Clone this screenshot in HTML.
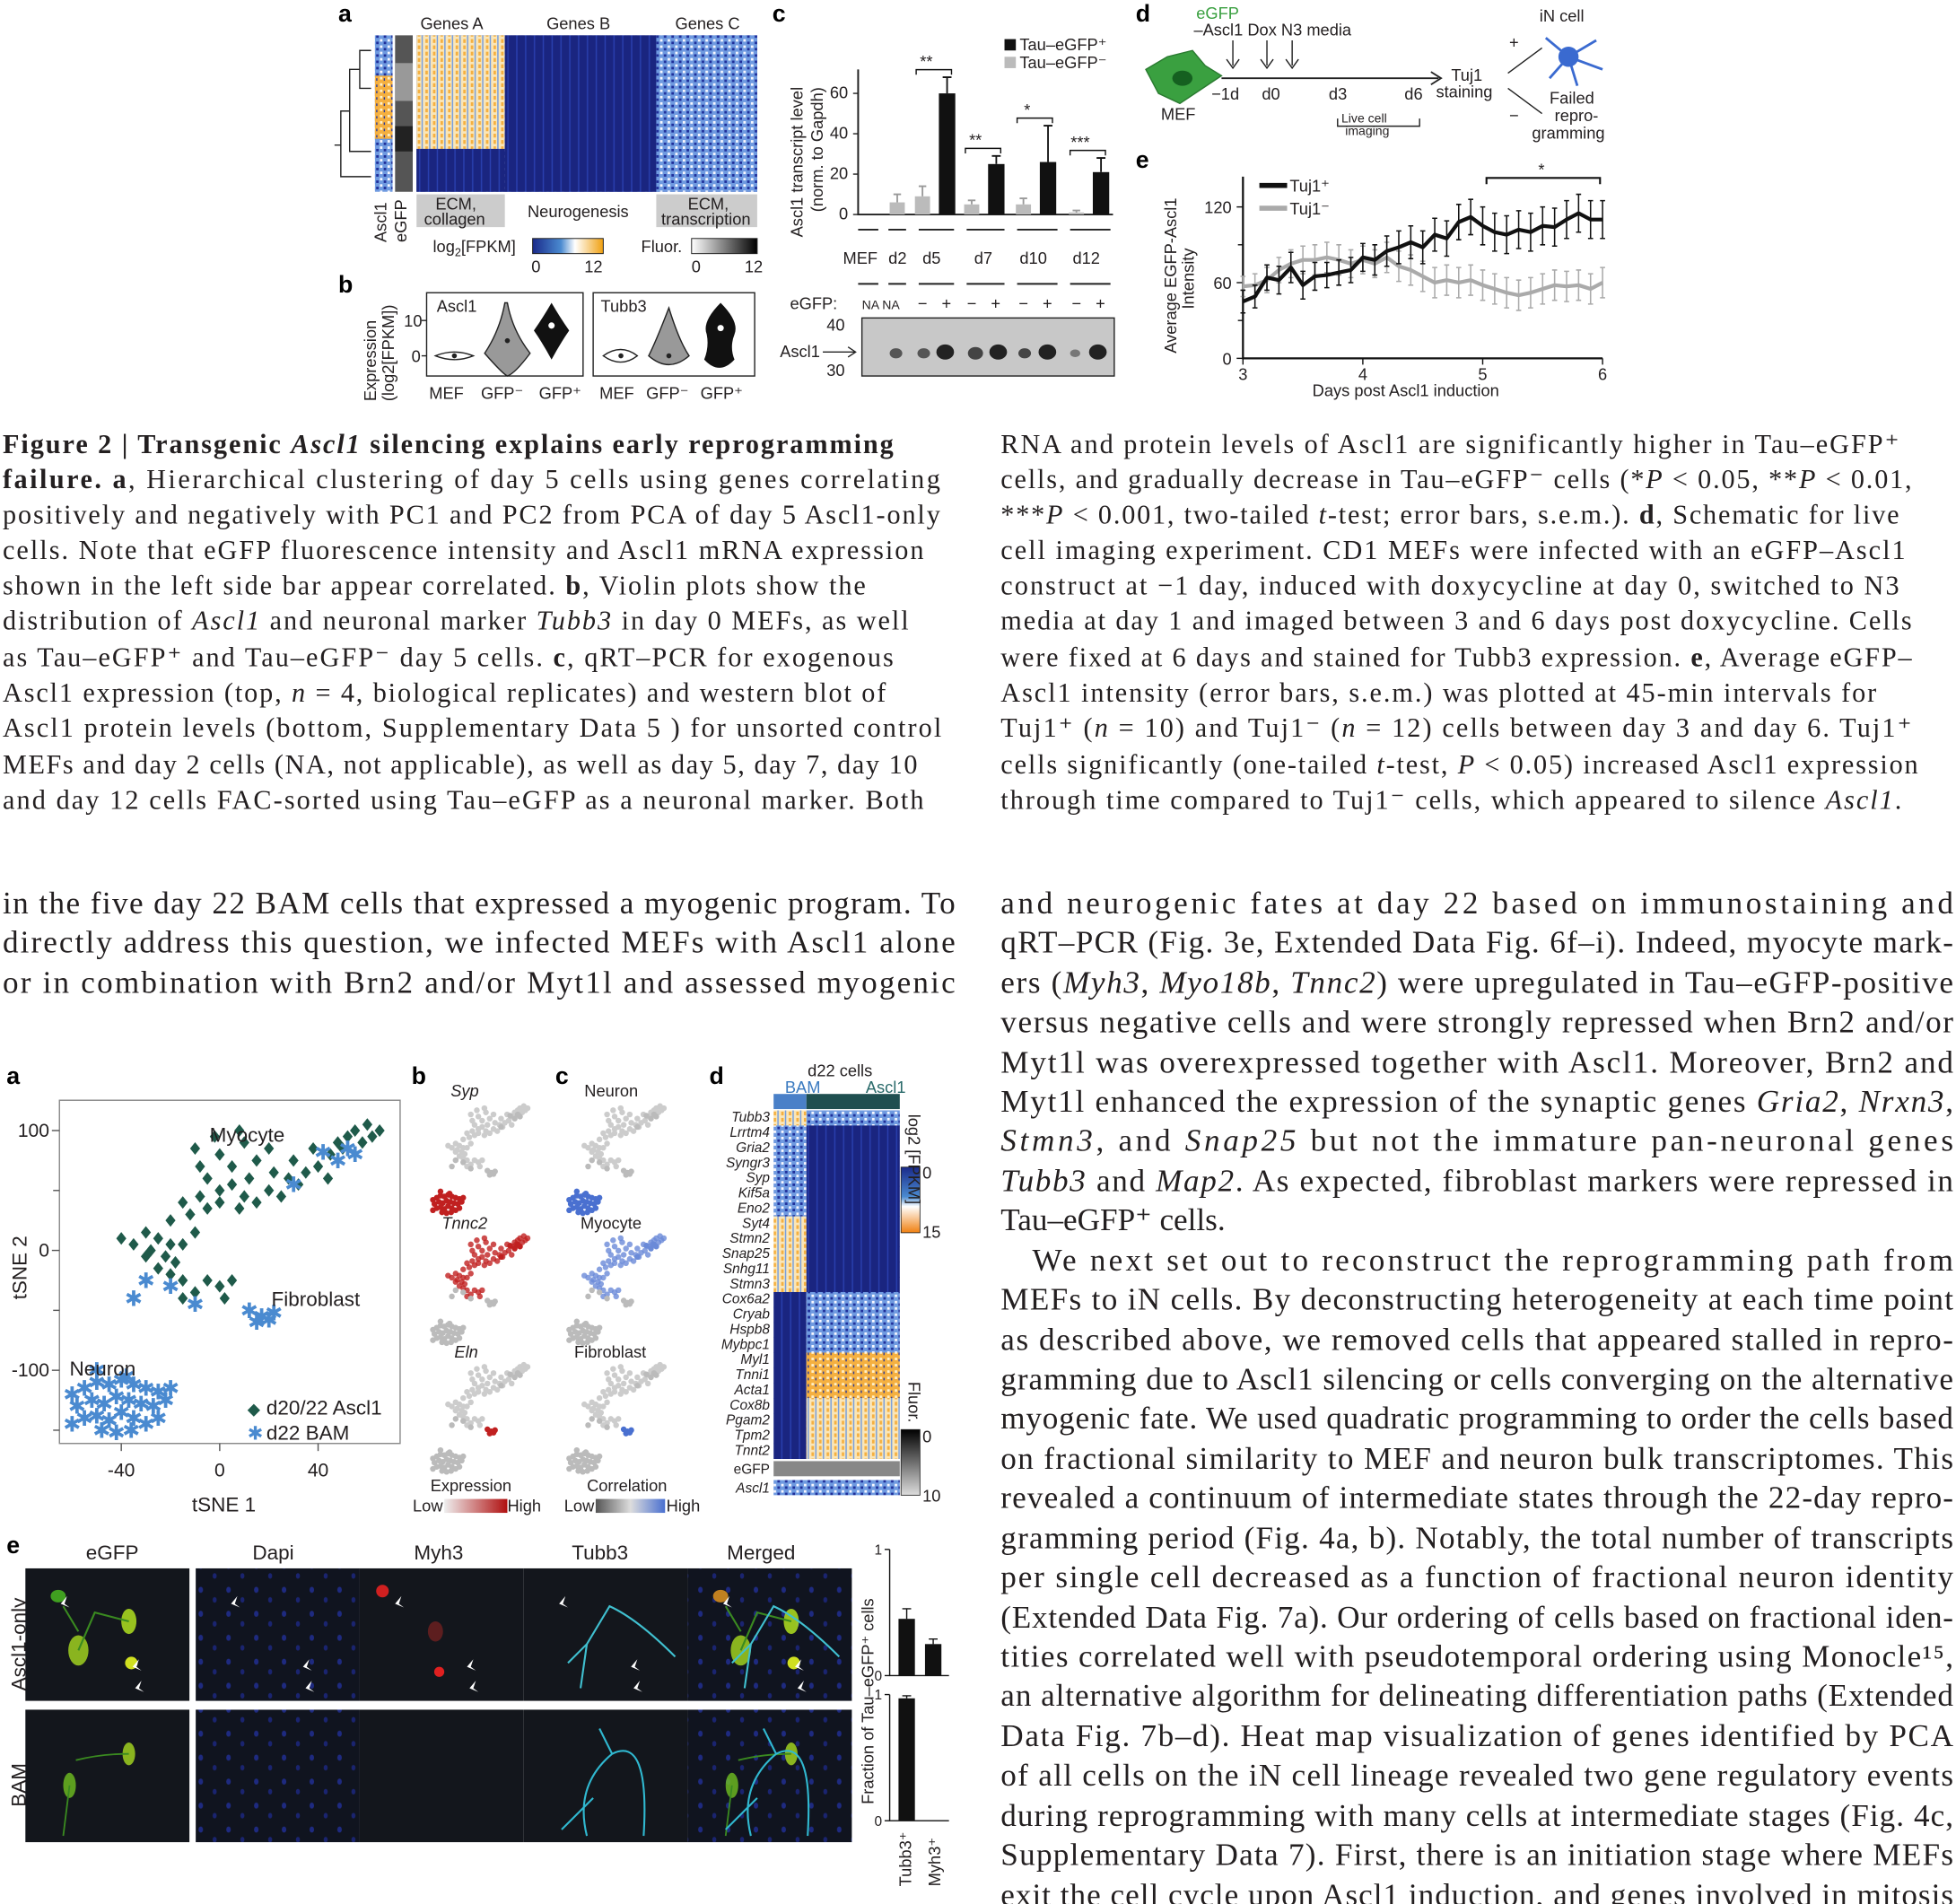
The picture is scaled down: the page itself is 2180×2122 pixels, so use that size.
<!DOCTYPE html>
<html><head><meta charset="utf-8">
<style>
html,body{margin:0;padding:0;background:#fff;}
svg{display:block;}
.cap{font-family:"Liberation Serif",serif;font-size:21.5px;fill:#231f20;}
.body{font-family:"Liberation Serif",serif;font-size:25px;fill:#231f20;}
.lbl{font-family:"Liberation Sans",sans-serif;font-size:13px;fill:#231f20;}
.plab{font-family:"Liberation Sans",sans-serif;font-size:19px;font-weight:bold;fill:#000;}
</style></head>
<body>
<svg id="page" width="2180" height="2122" viewBox="0 0 1550 1509" xmlns="http://www.w3.org/2000/svg">
<defs>
<linearGradient id="gFpkm" x1="0" x2="1"><stop offset="0" stop-color="#1a2a8a"/><stop offset="0.4" stop-color="#4a8ad0"/><stop offset="0.6" stop-color="#fff"/><stop offset="1" stop-color="#f0a010"/></linearGradient>
<linearGradient id="gFluor" x1="0" x2="1"><stop offset="0" stop-color="#fff"/><stop offset="1" stop-color="#000"/></linearGradient>
<linearGradient id="gFpkmV" x1="0" y1="0" x2="0" y2="1"><stop offset="0" stop-color="#1a2a8a"/><stop offset="0.45" stop-color="#4a8ad0"/><stop offset="0.6" stop-color="#fff"/><stop offset="1" stop-color="#f08010"/></linearGradient>
<linearGradient id="gFluorV" x1="0" y1="0" x2="0" y2="1"><stop offset="0" stop-color="#000"/><stop offset="1" stop-color="#ddd"/></linearGradient>
<linearGradient id="gExpr" x1="0" x2="1"><stop offset="0" stop-color="#eee"/><stop offset="1" stop-color="#b01010"/></linearGradient>
<linearGradient id="gCorr" x1="0" x2="1"><stop offset="0" stop-color="#555"/><stop offset="0.5" stop-color="#ddd"/><stop offset="1" stop-color="#4a70d0"/></linearGradient>
<pattern id="pBlue" width="6" height="5" patternUnits="userSpaceOnUse"><rect width="6" height="5" fill="#1f2f9a"/><rect x="1" y="1" width="2" height="2" fill="#5f8ed6"/><rect x="4" y="3" width="1" height="2" fill="#e8eefa"/></pattern>
<pattern id="pOrange" width="6" height="5" patternUnits="userSpaceOnUse"><rect width="6" height="5" fill="#f5b040"/><rect x="1" y="1" width="2" height="2" fill="#fff0c8"/><rect x="4" y="2" width="1" height="2" fill="#2a3a9a"/></pattern>
<pattern id="pPale" width="6" height="5" patternUnits="userSpaceOnUse"><rect width="6" height="5" fill="#fae6b8"/><rect x="1" y="1" width="2" height="3" fill="#f5b040"/><rect x="4" y="0" width="1" height="5" fill="#6f9ae0"/></pattern>
<pattern id="pLight" width="6" height="5" patternUnits="userSpaceOnUse"><rect width="6" height="5" fill="#6f9ae0"/><rect x="1" y="1" width="2" height="2" fill="#f8f8ff"/><rect x="4" y="3" width="2" height="2" fill="#1f2f9a"/></pattern>
<pattern id="pDark" width="7" height="5" patternUnits="userSpaceOnUse"><rect width="7" height="5" fill="#1a2580"/><rect x="3" y="0" width="1" height="5" fill="#2a40b0"/></pattern>
<pattern id="pCells" width="22" height="19" patternUnits="userSpaceOnUse"><rect width="22" height="19" fill="#10141f"/><ellipse cx="5" cy="6" rx="1.8" ry="2.4" fill="#1e2a80"/><ellipse cx="16" cy="14" rx="1.6" ry="2.2" fill="#1a2470"/></pattern>
<pattern id="pDim" width="22" height="19" patternUnits="userSpaceOnUse"><rect width="22" height="19" fill="#13161c"/></pattern>
</defs>

<!-- ============ FIGURE 2 ============ -->
<g id="fig2a">
  <text class="plab" x="268" y="17">a</text>
  <text class="lbl" x="333" y="23">Genes A</text>
  <text class="lbl" x="433" y="23">Genes B</text>
  <text class="lbl" x="535" y="23">Genes C</text>
  <rect x="330" y="28" width="270" height="124" fill="url(#pBlue)"/>
  <rect x="330" y="28" width="70" height="90" fill="url(#pPale)"/>
  <rect x="330" y="118" width="70" height="34" fill="url(#pDark)"/>
  <rect x="400" y="28" width="120" height="124" fill="url(#pDark)"/>
  <rect x="520" y="28" width="80" height="124" fill="url(#pLight)"/>
  <rect x="297" y="28" width="14" height="124" fill="url(#pLight)"/>
  <rect x="297" y="60" width="14" height="50" fill="url(#pOrange)"/>
  <rect x="313" y="28" width="14" height="124" fill="#555"/>
  <rect x="313" y="50" width="14" height="30" fill="#999"/><rect x="313" y="100" width="14" height="20" fill="#222"/>
  <path d="M294 40 H285 V70 H294 M285 55 H277 V120 H294 M277 88 H270 V140 H294 M270 115 H265" fill="none" stroke="#222"/>
  <rect x="330" y="154" width="70" height="26" fill="#ccc"/>
  <rect x="520" y="154" width="80" height="26" fill="#ccc"/>
  <text class="lbl" x="345" y="166">ECM,</text>
  <text class="lbl" x="336" y="178">collagen</text>
  <text class="lbl" x="418" y="172">Neurogenesis</text>
  <text class="lbl" x="545" y="166">ECM,</text>
  <text class="lbl" x="524" y="178">transcription</text>
  <text class="lbl" transform="translate(306,192) rotate(-90)">Ascl1</text>
  <text class="lbl" transform="translate(322,192) rotate(-90)">eGFP</text>
  <text class="lbl" x="343" y="200">log<tspan font-size="9" dy="3">2</tspan><tspan dy="-3">[FPKM]</tspan></text>
  <rect x="422" y="189" width="56" height="12" fill="url(#gFpkm)" stroke="#222" stroke-width="0.7"/>
  <text class="lbl" x="421" y="216">0</text>
  <text class="lbl" x="463" y="216">12</text>
  <text class="lbl" x="508" y="200">Fluor.</text>
  <rect x="548" y="189" width="52" height="12" fill="url(#gFluor)" stroke="#222" stroke-width="0.7"/>
  <text class="lbl" x="548" y="216">0</text>
  <text class="lbl" x="590" y="216">12</text>
</g>

<g id="fig2b">
  <text class="plab" x="268" y="232">b</text>
  <text class="lbl" transform="translate(298,318) rotate(-90)">Expression</text>
  <text class="lbl" transform="translate(312,318) rotate(-90)">(log2[FPKM])</text>
  <path d="M338 282 H334 M338 254 H334" stroke="#222"/>
  <text class="lbl" x="320" y="259">10</text>
  <text class="lbl" x="326" y="287">0</text>
  <rect x="338" y="232" width="124" height="66" fill="none" stroke="#222"/>
  <rect x="470" y="232" width="128" height="66" fill="none" stroke="#222"/>
  <text class="lbl" x="346" y="247">Ascl1</text>
  <text class="lbl" x="476" y="247">Tubb3</text>
  <path d="M345 282 Q360 276 375 282 Q360 288 345 282Z" fill="#fff" stroke="#222"/>
  <path d="M400 240 Q396 262 384 280 Q398 296 402 298 Q408 296 420 280 Q406 262 402 240Z" fill="#999" stroke="#222"/>
  <path d="M437 240 Q430 252 423 262 Q430 272 437 285 Q444 272 451 262 Q444 252 437 240Z" fill="#111"/>
  <path d="M478 282 Q492 272 505 282 Q492 292 478 282Z" fill="#fff" stroke="#222"/>
  <path d="M530 244 Q520 270 514 282 Q530 296 546 282 Q538 270 530 244Z" fill="#999" stroke="#222"/>
  <path d="M571 240 Q556 255 560 265 Q562 275 558 285 Q570 298 582 285 Q578 275 582 265 Q586 255 571 240Z" fill="#111"/>
  <circle cx="360" cy="282" r="2" fill="#222"/><circle cx="402" cy="270" r="2" fill="#222"/><circle cx="437" cy="258" r="2.5" fill="#fff"/><circle cx="492" cy="282" r="2" fill="#222"/><circle cx="530" cy="282" r="2" fill="#222"/><circle cx="571" cy="260" r="2.5" fill="#fff"/>
  <text class="lbl" x="340" y="316">MEF</text>
  <text class="lbl" x="381" y="316">GFP⁻</text>
  <text class="lbl" x="427" y="316">GFP⁺</text>
  <text class="lbl" x="475" y="316">MEF</text>
  <text class="lbl" x="512" y="316">GFP⁻</text>
  <text class="lbl" x="555" y="316">GFP⁺</text>
</g>

<g id="fig2c">
  <text class="plab" x="612" y="17">c</text>
  <text class="lbl" transform="translate(636,188) rotate(-90)">Ascl1 transcript level</text>
  <text class="lbl" transform="translate(652,168) rotate(-90)">(norm. to Gapdh)</text>
  <rect x="796" y="31" width="9" height="9" fill="#111"/>
  <text class="lbl" x="808" y="40">Tau–eGFP⁺</text>
  <rect x="796" y="45" width="9" height="9" fill="#bbb"/>
  <text class="lbl" x="808" y="54">Tau–eGFP⁻</text>
  <g id="qpcrAxis"></g>
  <g id="qpcrBars"></g>
  <text class="lbl" x="668" y="209">MEF</text>
  <text class="lbl" x="704" y="209">d2</text>
  <text class="lbl" x="731" y="209">d5</text>
  <text class="lbl" x="772" y="209">d7</text>
  <text class="lbl" x="808" y="209">d10</text>
  <text class="lbl" x="850" y="209">d12</text>
  <path d="M680 182 H696 M704 182 H718 M728 182 H756 M766 182 H796 M806 182 H838 M848 182 H880 M680 225 H696 M704 225 H718 M728 225 H756 M766 225 H796 M806 225 H838 M848 225 H880" stroke="#222" stroke-width="1.4"/>
  <text class="lbl" x="626" y="245">eGFP:</text>
  <text class="lbl" x="683" y="245" font-size="10" style="font-size:10px">NA NA</text>
  <g id="signs"></g>
  <rect x="683" y="252" width="200" height="46" fill="#c8c8c8" stroke="#222"/>
  <g fill="#222">
    <ellipse cx="710" cy="280" rx="5" ry="4" fill="#555"/><ellipse cx="732" cy="280" rx="5" ry="4" fill="#555"/><ellipse cx="749" cy="279" rx="7" ry="6"/><ellipse cx="773" cy="280" rx="6" ry="5" fill="#444"/><ellipse cx="791" cy="279" rx="7" ry="6"/><ellipse cx="812" cy="280" rx="5" ry="4" fill="#444"/><ellipse cx="830" cy="279" rx="7" ry="6"/><ellipse cx="852" cy="280" rx="4" ry="3" fill="#777"/><ellipse cx="870" cy="279" rx="7" ry="6"/>
  </g>
  <text class="lbl" x="655" y="262">40</text>
  <text class="lbl" x="655" y="298">30</text>
  <text class="lbl" x="618" y="283">Ascl1</text>
  <path d="M652 279 H678 M672 275 L678 279 L672 283" fill="none" stroke="#222"/>
</g>

<g id="fig2d">
  <text class="plab" x="900" y="17">d</text>
  <path d="M908 55 L925 45 L945 40 L955 52 L968 60 L950 72 L935 82 L918 74 Z" fill="#3aa040" stroke="#2a7a30"/>
  <ellipse cx="937" cy="62" rx="8" ry="6" fill="#156020"/>
  <text class="lbl" x="920" y="95">MEF</text>
  <path d="M968 62 H1140 M1134 57 L1142 62 L1134 67" fill="none" stroke="#222" stroke-width="1.3"/>
  <text class="lbl" x="948" y="15" style="fill:#3aa040">eGFP</text>
  <text class="lbl" x="946" y="28">–Ascl1  Dox N3 media</text>
  <path d="M977 32 V52 M1004 32 V52 M1024 32 V52 M972 47 L977 54 L982 47 M999 47 L1004 54 L1009 47 M1019 47 L1024 54 L1029 47" stroke="#222" fill="none"/>
  <text class="lbl" x="960" y="79">−1d</text>
  <text class="lbl" x="1000" y="79">d0</text>
  <text class="lbl" x="1053" y="79">d3</text>
  <text class="lbl" x="1113" y="79">d6</text>
  <text class="lbl" x="1063" y="97" style="font-size:10px">Live cell</text>
  <text class="lbl" x="1066" y="107" style="font-size:10px">imaging</text>
  <path d="M1060 94 V100 H1125 V94" fill="none" stroke="#222"/>
  <text class="lbl" x="1150" y="64">Tuj1</text>
  <text class="lbl" x="1138" y="77">staining</text>
  <path d="M1195 58 L1222 38 M1195 70 L1222 90" stroke="#222"/>
  <text class="lbl" x="1196" y="38">+</text>
  <text class="lbl" x="1196" y="96">−</text>
  <text class="lbl" x="1220" y="17">iN cell</text>
  <g stroke="#3a6ad0" stroke-width="2"><path d="M1243 45 L1225 30 M1243 45 L1265 32 M1243 45 L1270 55 M1243 45 L1228 62 M1243 45 L1250 68"/><circle cx="1243" cy="45" r="7" fill="#3a6ad0"/></g>
  <text class="lbl" x="1228" y="82">Failed</text>
  <text class="lbl" x="1232" y="96">repro-</text>
  <text class="lbl" x="1214" y="110">gramming</text>
</g>

<g id="fig2e">
  <text class="plab" x="900" y="133">e</text>
  <text class="lbl" transform="translate(932,280) rotate(-90)">Average EGFP-Ascl1</text>
  <text class="lbl" transform="translate(946,245) rotate(-90)">Intensity</text>
  <text class="lbl" x="1040" y="314">Days post Ascl1 induction</text>
  <g id="eAxis"></g>
  <g id="eLines"></g>
  <path d="M998 147 H1020" stroke="#111" stroke-width="4"/>
  <text class="lbl" x="1022" y="152">Tuj1⁺</text>
  <path d="M998 165 H1020" stroke="#aaa" stroke-width="4"/>
  <text class="lbl" x="1022" y="170">Tuj1⁻</text>
  <path d="M1178 146 V141 H1268 V146" fill="none" stroke="#111" stroke-width="1.5"/>
  <text class="lbl" x="1219" y="139">*</text>
</g>

<!-- caption text Fig 2 -->
<g>
<text class="cap" x="2" y="359" textLength="706" lengthAdjust="spacing" font-weight="bold">Figure 2 | Transgenic <tspan font-style="italic">Ascl1</tspan> silencing explains early reprogramming</text>
<text class="cap" x="2" y="387" textLength="743" lengthAdjust="spacing"><tspan font-weight="bold">failure. a</tspan>, Hierarchical clustering of day 5 cells using genes correlating</text>
<text class="cap" x="2" y="415" textLength="743" lengthAdjust="spacing">positively and negatively with PC1 and PC2 from PCA of day 5 Ascl1-only</text>
<text class="cap" x="2" y="443" textLength="730" lengthAdjust="spacing">cells. Note that eGFP fluorescence intensity and Ascl1 mRNA expression</text>
<text class="cap" x="2" y="471" textLength="684" lengthAdjust="spacing">shown in the left side bar appear correlated. <tspan font-weight="bold">b</tspan>, Violin plots show the</text>
<text class="cap" x="2" y="499" textLength="718" lengthAdjust="spacing">distribution of <tspan font-style="italic">Ascl1</tspan> and neuronal marker <tspan font-style="italic">Tubb3</tspan> in day 0 MEFs, as well</text>
<text class="cap" x="2" y="528" textLength="706" lengthAdjust="spacing">as Tau–eGFP⁺ and Tau–eGFP⁻ day 5 cells. <tspan font-weight="bold">c</tspan>, qRT–PCR for exogenous</text>
<text class="cap" x="2" y="556" textLength="700" lengthAdjust="spacing">Ascl1 expression (top, <tspan font-style="italic">n</tspan> = 4, biological replicates) and western blot of</text>
<text class="cap" x="2" y="584" textLength="744" lengthAdjust="spacing">Ascl1 protein levels (bottom, Supplementary Data 5 ) for unsorted control</text>
<text class="cap" x="2" y="613" textLength="725" lengthAdjust="spacing">MEFs and day 2 cells (NA, not applicable), as well as day 5, day 7, day 10</text>
<text class="cap" x="2" y="641" textLength="730" lengthAdjust="spacing">and day 12 cells FAC-sorted using Tau–eGFP as a neuronal marker. Both</text>
</g>
<g>
<text class="cap" x="793" y="359" textLength="712" lengthAdjust="spacing">RNA and protein levels of Ascl1 are significantly higher in Tau–eGFP⁺</text>
<text class="cap" x="793" y="387" textLength="722" lengthAdjust="spacing">cells, and gradually decrease in Tau–eGFP⁻ cells (*<tspan font-style="italic">P</tspan> &lt; 0.05, **<tspan font-style="italic">P</tspan> &lt; 0.01,</text>
<text class="cap" x="793" y="415" textLength="712" lengthAdjust="spacing">***<tspan font-style="italic">P</tspan> &lt; 0.001, two-tailed <tspan font-style="italic">t</tspan>-test; error bars, s.e.m.). <tspan font-weight="bold">d</tspan>, Schematic for live</text>
<text class="cap" x="793" y="443" textLength="717" lengthAdjust="spacing">cell imaging experiment. CD1 MEFs were infected with an eGFP–Ascl1</text>
<text class="cap" x="793" y="471" textLength="712" lengthAdjust="spacing">construct at −1 day, induced with doxycycline at day 0, switched to N3</text>
<text class="cap" x="793" y="499" textLength="722" lengthAdjust="spacing">media at day 1 and imaged between 3 and 6 days post doxycycline. Cells</text>
<text class="cap" x="793" y="528" textLength="722" lengthAdjust="spacing">were fixed at 6 days and stained for Tubb3 expression. <tspan font-weight="bold">e</tspan>, Average eGFP–</text>
<text class="cap" x="793" y="556" textLength="694" lengthAdjust="spacing">Ascl1 intensity (error bars, s.e.m.) was plotted at 45-min intervals for</text>
<text class="cap" x="793" y="584" textLength="722" lengthAdjust="spacing">Tuj1⁺ (<tspan font-style="italic">n</tspan> = 10) and Tuj1⁻ (<tspan font-style="italic">n</tspan> = 12) cells between day 3 and day 6. Tuj1⁺</text>
<text class="cap" x="793" y="613" textLength="727" lengthAdjust="spacing">cells significantly (one-tailed <tspan font-style="italic">t</tspan>-test, <tspan font-style="italic">P</tspan> &lt; 0.05) increased Ascl1 expression</text>
<text class="cap" x="793" y="641" textLength="714" lengthAdjust="spacing">through time compared to Tuj1⁻ cells, which appeared to silence <tspan font-style="italic">Ascl1</tspan>.</text>
</g>

<!-- body text -->
<g>
<text class="body" x="2" y="724" textLength="755" lengthAdjust="spacing">in the five day 22 BAM cells that expressed a myogenic program. To</text>
<text class="body" x="2" y="755" textLength="755" lengthAdjust="spacing">directly address this question, we infected MEFs with Ascl1 alone</text>
<text class="body" x="2" y="787" textLength="755" lengthAdjust="spacing">or in combination with Brn2 and/or Myt1l and assessed myogenic</text>
</g>
<g>
<text class="body" x="793" y="724" textLength="755" lengthAdjust="spacing">and neurogenic fates at day 22 based on immunostaining and</text>
<text class="body" x="793" y="755" textLength="755" lengthAdjust="spacing">qRT–PCR (Fig. 3e, Extended Data Fig. 6f–i). Indeed, myocyte mark-</text>
<text class="body" x="793" y="787" textLength="755" lengthAdjust="spacing">ers (<tspan font-style="italic">Myh3</tspan>, <tspan font-style="italic">Myo18b</tspan>, <tspan font-style="italic">Tnnc2</tspan>) were upregulated in Tau–eGFP-positive</text>
<text class="body" x="793" y="818" textLength="755" lengthAdjust="spacing">versus negative cells and were strongly repressed when Brn2 and/or</text>
<text class="body" x="793" y="850" textLength="755" lengthAdjust="spacing">Myt1l was overexpressed together with Ascl1. Moreover, Brn2 and</text>
<text class="body" x="793" y="881" textLength="755" lengthAdjust="spacing">Myt1l enhanced the expression of the synaptic genes <tspan font-style="italic">Gria2</tspan>, <tspan font-style="italic">Nrxn3</tspan>,</text>
<text class="body" x="793" y="912" textLength="755" lengthAdjust="spacing"><tspan font-style="italic">Stmn3</tspan>, and <tspan font-style="italic">Snap25</tspan> but not the immature pan-neuronal genes</text>
<text class="body" x="793" y="944" textLength="755" lengthAdjust="spacing"><tspan font-style="italic">Tubb3</tspan> and <tspan font-style="italic">Map2</tspan>. As expected, fibroblast markers were repressed in</text>
<text class="body" x="793" y="975">Tau–eGFP⁺ cells.</text>
<text class="body" x="818" y="1007" textLength="730" lengthAdjust="spacing">We next set out to reconstruct the reprogramming path from</text>
<text class="body" x="793" y="1038" textLength="755" lengthAdjust="spacing">MEFs to iN cells. By deconstructing heterogeneity at each time point</text>
<text class="body" x="793" y="1070" textLength="755" lengthAdjust="spacing">as described above, we removed cells that appeared stalled in repro-</text>
<text class="body" x="793" y="1101" textLength="755" lengthAdjust="spacing">gramming due to Ascl1 silencing or cells converging on the alternative</text>
<text class="body" x="793" y="1132" textLength="755" lengthAdjust="spacing">myogenic fate. We used quadratic programming to order the cells based</text>
<text class="body" x="793" y="1164" textLength="755" lengthAdjust="spacing">on fractional similarity to MEF and neuron bulk transcriptomes. This</text>
<text class="body" x="793" y="1195" textLength="755" lengthAdjust="spacing">revealed a continuum of intermediate states through the 22-day repro-</text>
<text class="body" x="793" y="1227" textLength="755" lengthAdjust="spacing">gramming period (Fig. 4a, b). Notably, the total number of transcripts</text>
<text class="body" x="793" y="1258" textLength="755" lengthAdjust="spacing">per single cell decreased as a function of fractional neuron identity</text>
<text class="body" x="793" y="1290" textLength="755" lengthAdjust="spacing">(Extended Data Fig. 7a). Our ordering of cells based on fractional iden-</text>
<text class="body" x="793" y="1321" textLength="755" lengthAdjust="spacing">tities correlated well with pseudotemporal ordering using Monocle¹⁵,</text>
<text class="body" x="793" y="1352" textLength="755" lengthAdjust="spacing">an alternative algorithm for delineating differentiation paths (Extended</text>
<text class="body" x="793" y="1384" textLength="755" lengthAdjust="spacing">Data Fig. 7b–d). Heat map visualization of genes identified by PCA</text>
<text class="body" x="793" y="1415" textLength="755" lengthAdjust="spacing">of all cells on the iN cell lineage revealed two gene regulatory events</text>
<text class="body" x="793" y="1447" textLength="755" lengthAdjust="spacing">during reprogramming with many cells at intermediate stages (Fig. 4c,</text>
<text class="body" x="793" y="1478" textLength="755" lengthAdjust="spacing">Supplementary Data 7). First, there is an initiation stage where MEFs</text>
<text class="body" x="793" y="1510" textLength="755" lengthAdjust="spacing">exit the cell cycle upon Ascl1 induction, and genes involved in mitosis</text>
</g>
<text class="cap" x="2" y="1530" font-weight="bold" textLength="730" lengthAdjust="spacing">Figure 3 | iN cell maturation competes with an alternative myogenic cell</text>

<!-- ============ FIGURE 3 ============ -->
<g id="fig3a">
  <text class="plab" x="5" y="859">a</text>
  <rect x="47" y="872" width="270" height="272" fill="none" stroke="#888"/>
  <g id="tsneAxis"></g>
  <g id="tsnePts"></g>
  <text class="lbl" x="166" y="905" style="font-size:16px">Myocyte</text>
  <text class="lbl" x="215" y="1035" style="font-size:16px">Fibroblast</text>
  <text class="lbl" x="55" y="1090" style="font-size:16px">Neuron</text>
  <text class="lbl" x="196" y="1121" style="font-size:13px;fill:#1f5a4a">◆</text>
  <text class="lbl" x="211" y="1121" style="font-size:16px">d20/22 Ascl1</text>
  <text class="lbl" x="196" y="1141" style="font-size:15px;fill:#4a8ad0">✱</text>
  <text class="lbl" x="211" y="1141" style="font-size:16px">d22 BAM</text>
  <text class="lbl" transform="translate(21,1030) rotate(-90)" style="font-size:16px">tSNE 2</text>
  <text class="lbl" x="152" y="1198" style="font-size:16px">tSNE 1</text>
</g>

<g id="fig3bc">
  <text class="plab" x="326" y="859">b</text>
  <text class="plab" x="440" y="859">c</text>
  <text class="lbl" x="357" y="869" font-style="italic">Syp</text>
  <text class="lbl" x="350" y="974" font-style="italic">Tnnc2</text>
  <text class="lbl" x="360" y="1076" font-style="italic">Eln</text>
  <text class="lbl" x="463" y="869">Neuron</text>
  <text class="lbl" x="460" y="974">Myocyte</text>
  <text class="lbl" x="455" y="1076">Fibroblast</text>
  <g id="miniPts"></g>
  <text class="lbl" x="341" y="1182">Expression</text>
  <text class="lbl" x="327" y="1198">Low</text>
  <rect x="352" y="1188" width="50" height="11" fill="url(#gExpr)"/>
  <text class="lbl" x="402" y="1198">High</text>
  <text class="lbl" x="465" y="1182">Correlation</text>
  <text class="lbl" x="447" y="1198">Low</text>
  <rect x="472" y="1188" width="55" height="11" fill="url(#gCorr)"/>
  <text class="lbl" x="528" y="1198">High</text>
</g>

<g id="fig3d">
  <text class="plab" x="562" y="859">d</text>
  <text class="lbl" x="640" y="853">d22 cells</text>
  <text class="lbl" x="622" y="866" style="fill:#3a7ac0">BAM</text>
  <text class="lbl" x="686" y="866" style="fill:#2a6a6a">Ascl1</text>
  <rect x="613" y="867" width="26" height="12" fill="#4a80c8"/>
  <rect x="639" y="867" width="74" height="12" fill="#1f4f50"/>
  <g id="hmRows"></g>
  <rect x="714" y="925" width="15" height="52" fill="url(#gFpkmV)" stroke="#222" stroke-width="0.6"/>
  <text class="lbl" x="731" y="934">0</text>
  <text class="lbl" x="731" y="981">15</text>
  <text class="lbl" transform="translate(720,883) rotate(90)">log2 [FPKM]</text>
  <rect x="714" y="1133" width="15" height="52" fill="url(#gFluorV)" stroke="#222" stroke-width="0.6"/>
  <text class="lbl" transform="translate(720,1095) rotate(90)">Fluor.</text>
  <text class="lbl" x="731" y="1143">0</text>
  <text class="lbl" x="731" y="1190">10</text>
</g>

<g id="fig3e">
  <text class="plab" x="5" y="1231">e</text>
  <text class="lbl" x="68" y="1236" style="font-size:16px">eGFP</text>
  <text class="lbl" x="200" y="1236" style="font-size:16px">Dapi</text>
  <text class="lbl" x="328" y="1236" style="font-size:16px">Myh3</text>
  <text class="lbl" x="453" y="1236" style="font-size:16px">Tubb3</text>
  <text class="lbl" x="576" y="1236" style="font-size:16px">Merged</text>
  <text class="lbl" transform="translate(20,1340) rotate(-90)" style="font-size:16px">Ascl1-only</text>
  <text class="lbl" transform="translate(20,1432) rotate(-90)" style="font-size:16px">BAM</text>
  <g id="micro"></g>
  <text class="lbl" transform="translate(692,1430) rotate(-90)">Fraction of Tau–eGFP⁺ cells</text>
  <g id="fracBars"></g>
  <text class="lbl" transform="translate(722,1495) rotate(-90)">Tubb3⁺</text>
  <text class="lbl" transform="translate(745,1495) rotate(-90)">Myh3⁺</text>
</g>
</svg>

<script>
var NS='http://www.w3.org/2000/svg';
function mk(tag,attrs,parent){var e=document.createElementNS(NS,tag);for(var k in attrs)e.setAttribute(k,attrs[k]);parent.appendChild(e);return e;}

// ---- Fig 2c data ----
var qCats=['MEF','d2','d5','d7','d10','d12'];
var qNeg=[0,6,9,5,5,1];
var qNegErr=[0,4,5,2,3,1];
var qPos=[null,null,60,25,26,21];
var qPosErr=[0,0,8,4,18,7];
var qTicks=[0,20,40,60];
var qCenters=[693,711,742,781,822,864];
function qy(v){return 170-v*1.6;}
(function(){
  var ax=document.getElementById('qpcrAxis');
  var l=mk('path',{d:'M680 55 V170 H882',fill:'none',stroke:'#222','stroke-width':1.4},ax);
  
  
  qTicks.forEach(function(t){
    mk('path',{d:'M676 '+qy(t)+' H680',stroke:'#222'},ax);
    var tx=mk('text',{x:672,y:qy(t)+4,'text-anchor':'end','class':'lbl'},ax);tx.textContent=t;
    
    
  });
  var g=document.getElementById('qpcrBars');
  var sg=document.getElementById('signs');
  qCats.forEach(function(c,i){
    var cx=qCenters[i];
    if(qNeg[i]>0){
      var xg=qPos[i]==null?cx-6:cx-17;
      var b=mk('rect',{x:xg,y:qy(qNeg[i]),width:12,height:qNeg[i]*1.6,fill:'#bbb'},g);
      
      
      mk('path',{d:'M'+(xg+6)+' '+qy(qNeg[i]+qNegErr[i])+' V'+qy(qNeg[i])+' M'+(xg+3)+' '+qy(qNeg[i]+qNegErr[i])+' H'+(xg+9),stroke:'#999','stroke-width':1.3},g);
    }
    if(qPos[i]!=null){
      var xp=cx+2;
      var b2=mk('rect',{x:xp,y:qy(qPos[i]),width:13,height:qPos[i]*1.6,fill:'#111'},g);
      
      
      var top=qy(qPos[i]+qPosErr[i]);
      mk('path',{d:'M'+(xp+6.5)+' '+top+' V'+qy(qPos[i])+' M'+(xp+3)+' '+top+' H'+(xp+10),stroke:'#111','stroke-width':1.3},g);
      var br=top-6, xl=xp-18;
      mk('path',{d:'M'+xl+' '+(br+4)+' V'+br+' H'+(xp+10)+' V'+(br+4),fill:'none',stroke:'#111'},g);
      var m=mk('text',{x:cx-11,y:245,'text-anchor':'middle','class':'lbl'},sg);m.textContent='−';
      var p=mk('text',{x:cx+8,y:245,'text-anchor':'middle','class':'lbl'},sg);p.textContent='+';
    }
  });
  var stars=['**','**','*','***'];
  [2,3,4,5].forEach(function(i,k){
    var t=mk('text',{x:qCenters[i]-8,y:qy(qPos[i]+qPosErr[i])-8,'class':'lbl','text-anchor':'middle'},g);t.textContent=stars[k];
  });
})();

// ---- Fig 2e data ----
var eDays=[3.0,3.1,3.2,3.3,3.4,3.5,3.6,3.7,3.8,3.9,4.0,4.1,4.2,4.3,4.4,4.5,4.6,4.7,4.8,4.9,5.0,5.1,5.2,5.3,5.4,5.5,5.6,5.7,5.8,5.9,6.0];
var ePos=[45,49,64,62,72,58,65,66,68,70,80,78,85,88,92,88,98,95,108,112,105,100,98,102,100,105,104,110,115,110,110];
var eNeg=[57,58,62,70,75,78,78,80,78,75,78,75,80,73,70,65,60,62,60,62,58,55,52,50,52,55,58,57,58,55,60];
var ePosErr=[9,9,10,11,12,11,11,10,10,10,11,12,12,13,13,13,13,14,14,14,15,15,15,15,15,15,15,15,15,15,15];
var eNegErr=[8,9,10,10,11,11,12,12,12,11,11,11,12,12,12,12,12,12,12,12,12,12,12,12,12,12,12,12,12,12,12];
var eYTicks=[0,60,120];
var eXTicks=[3,4,5,6];
function ex(d){return 985+(d-3)*95;}
function ey(v){return 284-v*1.0;}
(function(){
  var ax=document.getElementById('eAxis');
  var a=mk('path',{d:'M985 140 V284 H1270',fill:'none',stroke:'#111','stroke-width':1.6},ax);
  
  
  [30,90].forEach(function(v){mk('path',{d:'M981 '+ey(v)+' H985',stroke:'#111'},ax);});
  eYTicks.forEach(function(v){
    mk('path',{d:'M980 '+ey(v)+' H985',stroke:'#111'},ax);
    var t=mk('text',{x:976,y:ey(v)+5,'text-anchor':'end','class':'lbl'},ax);t.textContent=v;
    
    
  });
  eXTicks.forEach(function(d){
    mk('path',{d:'M'+ex(d)+' 284 V289',stroke:'#111'},ax);
    var t=mk('text',{x:ex(d),y:301,'text-anchor':'middle','class':'lbl'},ax);t.textContent=d;
    
    
  });
  var g=document.getElementById('eLines');
  function series(vals,errs,col,name){
    var d='',e='';
    vals.forEach(function(v,i){
      var x=ex(eDays[i]);
      d+=(i?'L':'M')+x+' '+ey(v);
      e+='M'+x+' '+ey(v-errs[i])+' V'+ey(v+errs[i])+' M'+(x-2)+' '+ey(v-errs[i])+' H'+(x+2)+' M'+(x-2)+' '+ey(v+errs[i])+' H'+(x+2);
    });
    var eb=mk('path',{d:e,stroke:col,'stroke-width':1.1,fill:'none'},g);
    
    
    var ln=mk('path',{d:d,stroke:col,'stroke-width':3,fill:'none','stroke-linejoin':'round'},g);
    
    
  }
  series(eNeg,eNegErr,'#aaa','tuj1-neg');
  series(ePos,ePosErr,'#111','tuj1-pos');
})();

// ---- Fig 3a tSNE data ----
var myoX=[-30,-25,-20,-28,-22,-18,-25,-20,-15,-30,-15,-10,-20,-12,-5,-15,-8,0,-5,5,10,0,8,15,20,12,5,15,0,-8,22,28,25,32,35,30,40,45,38,48,52,55,60,58,62,65,50,44,20,10,-10,-2,8,-15,-10,0,5,2,-5,-35,-40];
var myoY=[15,10,5,0,-5,-10,-15,-20,-25,-5,5,15,25,30,35,40,45,50,60,55,45,40,35,40,50,60,70,75,80,70,65,60,45,55,65,75,70,80,85,90,95,100,105,90,95,100,85,60,85,90,85,95,100,-40,-35,-30,-25,-40,-25,5,10];
var bamX=[-60,-55,-50,-45,-40,-35,-30,-25,-58,-52,-47,-42,-37,-32,-27,-22,-55,-50,-45,-40,-35,-30,-48,-42,-36,-60,-25,-20,-38,-50,12,17,22,15,20,42,48,52,55,30,-20,-35,-30,-10];
var bamY=[-120,-115,-110,-112,-108,-112,-115,-118,-130,-125,-128,-122,-125,-128,-130,-125,-140,-138,-142,-135,-140,-145,-150,-152,-150,-145,-140,-115,-105,-100,-50,-55,-52,-60,-58,82,75,85,80,55,-30,-40,-25,-45];
var tXTicks=[-40,0,40];
var tYTicks=[100,0,-100];
function tx(v){return 174+v*1.95;}
function ty(v){return 991-v*0.95;}
(function(){
  var ax=document.getElementById('tsneAxis');
  tXTicks.forEach(function(v){
    mk('path',{d:'M'+tx(v)+' 1144 V1150',stroke:'#555'},ax);
    var t=mk('text',{x:tx(v),y:1170,'text-anchor':'middle','class':'lbl',style:'font-size:15px'},ax);t.textContent=v;
    
    
  });
  tYTicks.forEach(function(v){
    mk('path',{d:'M41 '+ty(v)+' H47',stroke:'#555'},ax);
    var t=mk('text',{x:39,y:ty(v)+5,'text-anchor':'end','class':'lbl',style:'font-size:15px'},ax);t.textContent=v;
    
    
  });
  [50,-50,-150].forEach(function(v){mk('path',{d:'M42 '+ty(v)+' H47',stroke:'#555'},ax);});
  var g=document.getElementById('tsnePts');
  myoX.forEach(function(x,i){
    var X=tx(x),Y=ty(myoY[i]);
    var p=mk('path',{d:'M'+X+' '+(Y-5)+' L'+(X+4)+' '+Y+' L'+X+' '+(Y+5)+' L'+(X-4)+' '+Y+'Z',fill:'#1f5a4a'},g);
    
    
  });
  bamX.forEach(function(x,i){
    var X=tx(x),Y=ty(bamY[i]);
    var s=mk('text',{x:X,y:Y+6,'text-anchor':'middle',fill:'#4a8ad0',style:'font-size:17px;font-family:DejaVu Sans,sans-serif'},g);s.textContent='✱';
    
    
  });
  var m=document.getElementById('miniPts');
  var panels=[[340,875,'syp','neuron','#c02020'],[340,978,'tnnc2','myo','#c02020'],[340,1080,'eln','fib','#c02020'],[448,875,'neuron','neuron','#4a70d0'],[448,978,'myocyte','myo','#6a8ad8'],[448,1080,'fibroblast','fib','#4a70d0']];
  panels.forEach(function(pn){
    var ox=pn[0],oy=pn[1];
    function px(v){return ox+(v+65)*0.6;}
    function py(v){return oy+(110-v)*0.33;}
    myoX.forEach(function(x,i){
      var hi=pn[3]=='myo';
      var c=mk('circle',{cx:px(x),cy:py(myoY[i]),r:2.3,fill:hi?pn[4]:'#ccc','fill-opacity':hi?0.8:1},m);
      
      
    });
    bamX.forEach(function(x,i){
      var isN=bamY[i]<-90, isF=(bamY[i]<-45&&bamY[i]>-65);
      var hi=(pn[3]=='neuron'&&isN)||(pn[3]=='fib'&&isF)||(pn[3]=='myo'&&bamY[i]>40);
      var c=mk('circle',{cx:px(x),cy:py(bamY[i]),r:2.3,fill:hi?pn[4]:'#bbb'},m);
      
      
    });
  });
})();

// ---- Fig 3d heatmap ----
var hmGenes=['Tubb3','Lrrtm4','Gria2','Syngr3','Syp','Kif5a','Eno2','Syt4','Stmn2','Snap25','Snhg11','Stmn3','Cox6a2','Cryab','Hspb8','Mybpc1','Myl1','Tnni1','Acta1','Cox8b','Pgam2','Tpm2','Tnnt2'];
var hmBamLevel=[3,1,1,1,1,1,1,3,3,3,3,3,0,0,0,0,0,0,0,0,0,0,0];
var hmAscl1Level=[1,0,0,0,0,0,0,0,0,0,0,0,1,1,1,1,2,2,2,3,3,3,3];
(function(){
  var g=document.getElementById('hmRows');
  var y0=880,rh=12;
  var fills=['url(#pDark)','url(#pLight)','url(#pOrange)','url(#pPale)'];
  hmGenes.forEach(function(gn,i){
    var y=y0+i*rh;
    var t=mk('text',{x:610,y:y+9,'text-anchor':'end','class':'lbl',style:'font-size:11px;font-style:italic'},g);t.textContent=gn;
    
    
    var r1=mk('rect',{x:613,y:y,width:26,height:rh+0.3,fill:fills[hmBamLevel[i]]},g);
    
    
    var r2=mk('rect',{x:639,y:y,width:74,height:rh+0.3,fill:fills[hmAscl1Level[i]]},g);
    
    
  });
  var e1=mk('rect',{x:613,y:1158,width:100,height:12,fill:'#888'},g);
  
  
  var e2=mk('rect',{x:613,y:1173,width:100,height:12,fill:'url(#pLight)'},g);
  
  
  var t1=mk('text',{x:610,y:1168,'text-anchor':'end','class':'lbl',style:'font-size:11px'},g);t1.textContent='eGFP';
  var t2=mk('text',{x:610,y:1183,'text-anchor':'end','class':'lbl',style:'font-size:11px;font-style:italic'},g);t2.textContent='Ascl1';
})();

// ---- Fig 3e micrographs + fraction bars ----
var fracCats=['Tubb3+','Myh3+'];
var fracAscl1=[0.45,0.25];
var fracAscl1Err=[0.08,0.04];
var fracBam=[0.97,0];
var fracBamErr=[0.02,0];
(function(){
  var g=document.getElementById('micro');
  var cols=[20,155,285,415,545],names=['egfp','dapi','myh3','tubb3','merged'];
  [1243,1355].forEach(function(y,ri){
    cols.forEach(function(x,ci){
      var r=mk('rect',{x:x,y:y,width:130,height:105,fill:(ci==1||ci==4)?'url(#pCells)':'url(#pDim)'},g);
      
      
      if(ci==0||ci==4){
        if(ri==0){mk('ellipse',{cx:x+42,cy:y+65,rx:8,ry:12,fill:'#a0d020','fill-opacity':0.85},g);mk('ellipse',{cx:x+82,cy:y+42,rx:6,ry:10,fill:'#b0e020','fill-opacity':0.85},g);mk('circle',{cx:x+84,cy:y+75,r:5,fill:'#d0e020'},g);mk('ellipse',{cx:x+26,cy:y+22,rx:6,ry:5,fill:ci==4?'#c08020':'#40a020'},g);mk('path',{d:'M'+(x+42)+' '+(y+65)+' L'+(x+55)+' '+(y+35)+' L'+(x+82)+' '+(y+42)+' M'+(x+30)+' '+(y+30)+' L'+(x+42)+' '+(y+50),stroke:'#3a8a20','stroke-width':1.5,fill:'none'},g);}
        else{mk('ellipse',{cx:x+35,cy:y+60,rx:5,ry:10,fill:'#70c020','fill-opacity':0.8},g);mk('ellipse',{cx:x+82,cy:y+35,rx:5,ry:9,fill:'#a0d020','fill-opacity':0.85},g);mk('path',{d:'M'+(x+40)+' '+(y+40)+' Q'+(x+60)+' '+(y+35)+' '+(x+82)+' '+(y+35)+' M'+(x+35)+' '+(y+60)+' L'+(x+30)+' '+(y+100),stroke:'#3a8a20','stroke-width':1.3,fill:'none'},g);}
      }
      if(ci==2&&ri==0){mk('circle',{cx:x+18,cy:y+18,r:5,fill:'#d02020'},g);mk('ellipse',{cx:x+60,cy:y+50,rx:6,ry:8,fill:'#702020','fill-opacity':0.8},g);mk('circle',{cx:x+63,cy:y+82,r:4,fill:'#e02020'},g);}
      if(ci==3||ci==4){
        if(ri==0)mk('path',{d:'M'+(x+45)+' '+(y+95)+' L'+(x+50)+' '+(y+60)+' L'+(x+68)+' '+(y+30)+' Q'+(x+90)+' '+(y+40)+' '+(x+120)+' '+(y+70)+' M'+(x+50)+' '+(y+60)+' L'+(x+35)+' '+(y+75),stroke:'#40c0d0','stroke-width':1.5,fill:'none'},g);
        else mk('path',{d:'M'+(x+50)+' '+(y+100)+' Q'+(x+40)+' '+(y+60)+' '+(x+70)+' '+(y+35)+' Q'+(x+100)+' '+(y+20)+' '+(x+95)+' '+(y+100)+' M'+(x+70)+' '+(y+35)+' L'+(x+60)+' '+(y+15)+' M'+(x+55)+' '+(y+70)+' L'+(x+30)+' '+(y+95),stroke:'#30b8d0','stroke-width':1.5,fill:'none'},g);
      }
      if(ri==0&&ci!=2||ri==0&&ci==2){
        [[28,28],[85,78],[87,95]].forEach(function(a){mk('path',{d:'M'+(x+a[0])+' '+(y+a[1])+' l5 -6 l-2 6 l4 3 z',fill:'#fff'},g);});
      }
    });
  });
  var b=document.getElementById('fracBars');
  function fy(v,base){return base-v*100;}
  [[1328,fracAscl1,fracAscl1Err,'ascl1'],[1443,fracBam,fracBamErr,'bam']].forEach(function(s){
    var base=s[0];
    mk('path',{d:'M705 '+(base-100)+' V'+base+' H752',stroke:'#111',fill:'none'},b);
    mk('path',{d:'M701 '+(base-100)+' H705 M701 '+base+' H705',stroke:'#111'},b);
    var t1=mk('text',{x:699,y:base-96,'text-anchor':'end','class':'lbl',style:'font-size:11px'},b);t1.textContent='1';
    var t0=mk('text',{x:699,y:base+4,'text-anchor':'end','class':'lbl',style:'font-size:11px'},b);t0.textContent='0';
    s[1].forEach(function(v,i){
      var x=712+i*21;
      var r=mk('rect',{x:x,y:fy(v,base),width:13,height:v*100,fill:'#111'},b);
      
      
      if(s[2][i]>0)mk('path',{d:'M'+(x+6.5)+' '+fy(v+s[2][i],base)+' V'+fy(v,base)+' M'+(x+3)+' '+fy(v+s[2][i],base)+' H'+(x+10),stroke:'#111'},b);
    });
  });
})();
</script>
</body></html>
